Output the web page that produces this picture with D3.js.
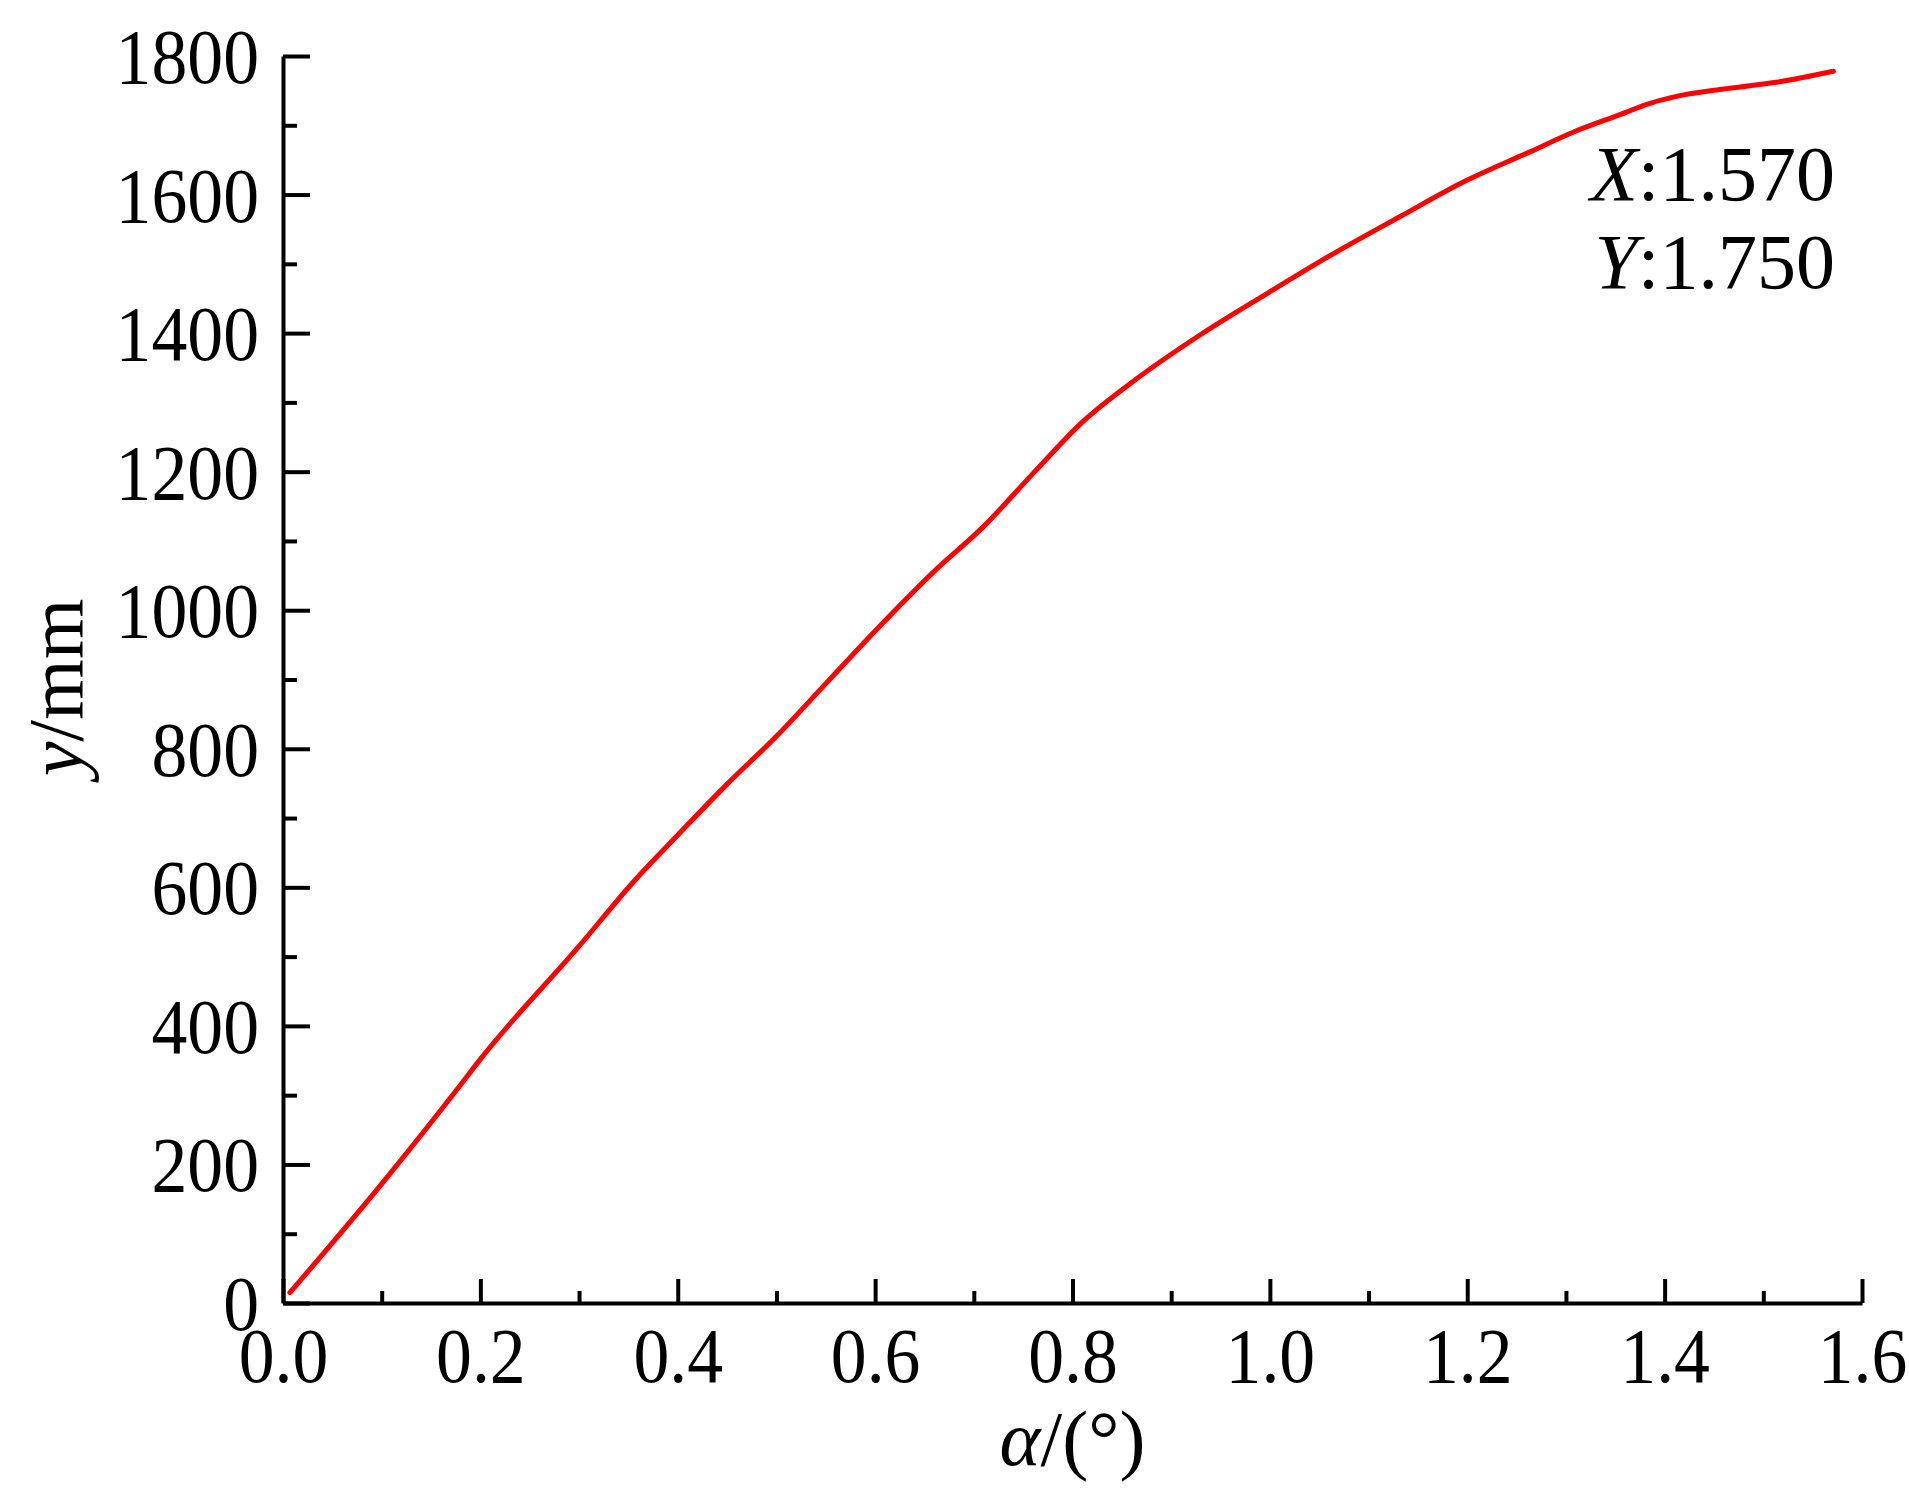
<!DOCTYPE html>
<html>
<head>
<meta charset="utf-8">
<script src="https://cdn.jsdelivr.net/npm/d3@7"></script>
<style>
  body { margin: 0; background: #fff; }
  svg text { font-family: "Liberation Serif", "Times New Roman", serif; fill: #000; }
</style>
</head>
<body>
<svg></svg>
<script>
var alpha = [0.007, 0.1, 0.18, 0.2, 0.3, 0.357, 0.401, 0.45, 0.5, 0.55, 0.6, 0.659, 0.71, 0.761, 0.811, 0.862, 0.93, 0.997, 1.06, 1.133, 1.196, 1.264, 1.309, 1.354, 1.386, 1.413, 1.458, 1.513, 1.571];
var yMm = [15, 172, 315, 352, 515, 611, 677, 749, 818, 894, 970, 1055, 1121, 1199, 1273, 1331, 1398, 1457, 1511, 1569, 1618, 1662, 1691, 1715, 1732, 1742, 1752, 1762, 1778];

var xMajor = [0, 0.2, 0.4, 0.6, 0.8, 1.0, 1.2, 1.4, 1.6];
var xMinor = [0.1, 0.3, 0.5, 0.7, 0.9, 1.1, 1.3, 1.5];
var yMajor = [0, 200, 400, 600, 800, 1000, 1200, 1400, 1600, 1800];
var yMinor = [100, 300, 500, 700, 900, 1100, 1300, 1500, 1700];

var annotation = [["X", ":1.570"], ["Y", ":1.750"]];

var W = 1909, H = 1492;
var margin = {top: 56, right: 47, bottom: 189, left: 283};
var fontSize = 78;

var svg = d3.select("svg").attr("width", W).attr("height", H);

var x = d3.scaleLinear().domain([0, 1.6]).range([margin.left, W - margin.right]);
var y = d3.scaleLinear().domain([0, 1800]).range([H - margin.bottom, margin.top]);

var data = alpha.map(function(a, i) { return {a: a, v: yMm[i]}; });

// minor ticks first
svg.append("g")
  .attr("transform", "translate(0," + y(0) + ")")
  .call(d3.axisBottom(x).tickValues(xMinor).tickSize(-12).tickFormat(""))
  .call(function(g) { g.select(".domain").remove(); });

svg.append("g")
  .attr("transform", "translate(" + x(0) + ",0)")
  .call(d3.axisLeft(y).tickValues(yMinor).tickSize(-14).tickFormat(""))
  .call(function(g) { g.select(".domain").remove(); });

var xAxis = svg.append("g")
  .attr("transform", "translate(0," + y(0) + ")")
  .call(d3.axisBottom(x).tickValues(xMajor).tickSize(-24).tickSizeOuter(0).tickPadding(24).tickFormat(d3.format(".1f")));

var yAxis = svg.append("g")
  .attr("transform", "translate(" + x(0) + ",0)")
  .call(d3.axisLeft(y).tickValues(yMajor).tickSize(-27).tickSizeOuter(0).tickPadding(24).tickFormat(d3.format("d")));

svg.selectAll(".tick line, .domain")
  .attr("stroke", "#000")
  .attr("stroke-width", 4);

// tick numbers in the reference are a bit narrower than the font
svg.selectAll(".tick text")
  .style("font-size", fontSize + "px")
  .style("font-family", "'Liberation Serif', 'Times New Roman', serif")
  .attr("transform", "scale(0.92,1)");

yAxis.selectAll(".tick text").attr("dy", "0.34em").attr("x", -26);

// curve
svg.append("path")
  .datum(data)
  .attr("fill", "none")
  .attr("stroke", "#ff0000")
  .attr("stroke-width", 5)
  .attr("stroke-linecap", "round")
  .attr("stroke-linejoin", "round")
  .attr("d", d3.line()
    .x(function(d) { return x(d.a); })
    .y(function(d) { return y(d.v); })
    .curve(d3.curveMonotoneX));

// axis titles
var xt = svg.append("text")
  .attr("x", (x(0) + x(1.6)) / 2)
  .attr("y", 1465)
  .attr("text-anchor", "middle")
  .style("font-size", fontSize + "px");
xt.append("tspan").style("font-style", "italic").text("α");
xt.append("tspan").text("/(°)");

var yt = svg.append("text")
  .attr("transform", "translate(82," + ((y(0) + y(1800)) / 2 + 8) + ") rotate(-90)")
  .attr("text-anchor", "middle")
  .style("font-size", fontSize + "px");
yt.append("tspan").style("font-style", "italic").text("y");
yt.append("tspan").text("/mm");

// readout at the end of the curve
annotation.forEach(function(row, i) {
  var t = svg.append("text")
    .attr("x", 1835)
    .attr("y", 200 + i * 88)
    .attr("text-anchor", "end")
    .style("font-size", fontSize + "px");
  t.append("tspan").style("font-style", "italic").text(row[0]);
  t.append("tspan").text(row[1]);
});
</script>
</body>
</html>
